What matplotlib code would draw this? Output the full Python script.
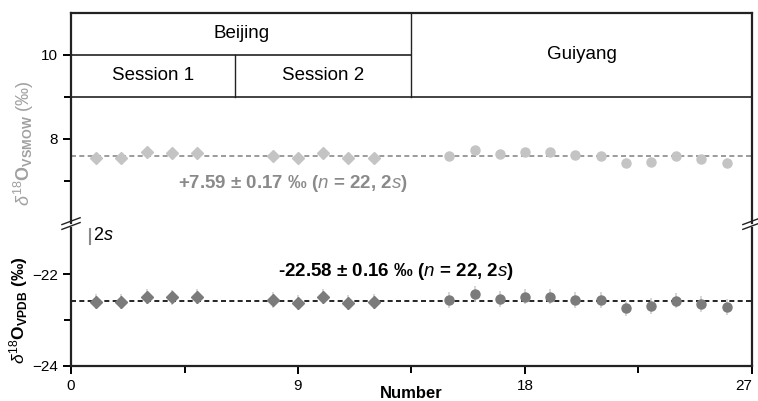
import matplotlib.pyplot as plt
import numpy as np

plt.rcParams['font.family'] = ['Liberation Sans', 'DejaVu Sans']
plt.rcParams['mathtext.fontset'] = 'custom'
plt.rcParams['mathtext.rm'] = 'Liberation Sans'
plt.rcParams['mathtext.bf'] = 'Liberation Sans:bold'
plt.rcParams['mathtext.it'] = 'Liberation Sans:italic'

# sample numbers
beijing_x = [1, 2, 3, 4, 5, 8, 9, 10, 11, 12]
guiyang_x = [15, 16, 17, 18, 19, 20, 21, 22, 23, 24, 25, 26]

# d18O VSMOW values
vsmow_bj = [7.55, 7.55, 7.70, 7.67, 7.67, 7.60, 7.55, 7.67, 7.54, 7.54]
vsmow_gy = [7.60, 7.74, 7.64, 7.69, 7.69, 7.61, 7.60, 7.44, 7.46, 7.60, 7.53, 7.44]
vsmow_mean = 7.59

# d18O VPDB values
vpdb_bj = [-22.60, -22.60, -22.49, -22.51, -22.49, -22.57, -22.62, -22.49, -22.62, -22.60]
vpdb_gy = [-22.57, -22.43, -22.54, -22.49, -22.49, -22.57, -22.57, -22.75, -22.70, -22.58, -22.65, -22.72]
vpdb_mean = -22.58

err_top = 0.10
err_bot = 0.17

fig = plt.figure(figsize=(7.58, 4.01), dpi=100)
ax1 = fig.add_axes([0.0937, 0.4439, 0.8983, 0.5237])
ax2 = fig.add_axes([0.0937, 0.0873, 0.8983, 0.3441])

light = '#c4c4c4'
dark = '#7b7b7b'

# top panel
ax1.errorbar(beijing_x, vsmow_bj, yerr=err_top, fmt='D', ms=6, color=light,
             ecolor='#e6e6e6', elinewidth=1.2, capsize=0, zorder=3)
ax1.errorbar(guiyang_x, vsmow_gy, yerr=err_top, fmt='o', ms=6.5, color=light,
             ecolor='#e6e6e6', elinewidth=1.2, capsize=0, zorder=3)
ax1.axhline(vsmow_mean, color='#8a8a8a', ls=(0, (3, 2)), lw=1.2, zorder=2)
ax1.text(8.8, 6.93, r'+7.59 ± 0.17 ‰ ($\mathbf{\mathit{n}}$ = 22, 2$\mathbf{\mathit{s}}$)',
         ha='center', va='center', fontsize=13.5, fontweight='bold', color='#8a8a8a')

# session boxes
box_c = '#222222'
ax1.plot([0, 13.5], [10, 10], color=box_c, lw=1.2)
ax1.plot([0, 27], [9, 9], color=box_c, lw=1.2)
ax1.plot([6.5, 6.5], [9, 10], color=box_c, lw=1)
ax1.plot([13.5, 13.5], [9, 11], color=box_c, lw=1)
ax1.text(6.75, 10.5, 'Beijing', ha='center', va='center', fontsize=13.5)
ax1.text(3.25, 9.5, 'Session 1', ha='center', va='center', fontsize=13.5)
ax1.text(10.0, 9.5, 'Session 2', ha='center', va='center', fontsize=13.5)
ax1.text(20.25, 10.0, 'Guiyang', ha='center', va='center', fontsize=13.5)

ax1.set_xlim(0, 27)
ax1.set_ylim(6, 11)
ax1.set_yticks([8, 10])
ax1.set_yticks([7, 9], minor=True)
ax1.set_xticks([])
ax1.spines['bottom'].set_visible(False)

# bottom panel
ax2.errorbar(beijing_x, vpdb_bj, yerr=err_bot, fmt='D', ms=6, color=dark,
             ecolor='#cfcfcf', elinewidth=1.2, capsize=0, zorder=3)
ax2.errorbar(guiyang_x, vpdb_gy, yerr=err_bot, fmt='o', ms=6.5, color=dark,
             ecolor='#cfcfcf', elinewidth=1.2, capsize=0, zorder=3)
ax2.axhline(vpdb_mean, color='black', ls=(0, (3, 2)), lw=1.2, zorder=2)
ax2.text(12.9, -21.95, r'-22.58 ± 0.16 ‰ ($\mathbf{\mathit{n}}$ = 22, 2$\mathbf{\mathit{s}}$)',
         ha='center', va='center', fontsize=13.5, fontweight='bold', color='black')

# 2s scale bar
ax2.plot([0.75, 0.75], [-21.0, -21.34], color='#8a8a8a', lw=1.5)
ax2.text(0.88, -21.17, r'2$\mathit{s}$', ha='left', va='center', fontsize=13)

ax2.set_xlim(0, 27)
ax2.set_ylim(-24, -21)
ax2.set_yticks([-24, -22])
ax2.set_yticks([-23], minor=True)
ax2.set_xticks([0, 9, 18, 27])
ax2.set_xticks([4.5, 13.5, 22.5], minor=True)
ax2.spines['top'].set_visible(False)

for ax in (ax1, ax2):
    for s in ax.spines.values():
        s.set_linewidth(1.6)
        s.set_color('#222222')
    ax.tick_params(which='both', direction='out', width=1.4, labelsize=11)
    ax.tick_params(which='major', length=6)
    ax.tick_params(which='minor', length=5)

# keep the last x tick label inside the figure
ax2.get_xticklabels()[-1].set_horizontalalignment('right')

# axis labels
fig.text(0.031, 1 - 143 / 401, r'$\delta^{18}\mathbf{O}_{\mathbf{VSMOW}}$ (‰)', color='#a0a0a0',
         fontsize=13, rotation=90, ha='center', va='center')
fig.text(0.025, 1 - 310 / 401, r'$\delta^{18}\mathbf{O}_{\mathbf{VPDB}}$ $\mathbf{(‰)}$',
         color='black', fontsize=12.5, rotation=90, ha='center', va='center')
fig.text(0.543, 1 - 393 / 401, 'Number', fontsize=12, fontweight='bold',
         ha='center', va='center')

# axis break marks
for xf in (0.0937, 0.992):
    for dy in (0.0, 0.012):
        fig.add_artist(plt.Line2D([xf - 0.012, xf + 0.012],
                                  [0.428 + dy, 0.445 + dy],
                                  color='#222222', lw=1, transform=fig.transFigure))

fig.savefig('out.png', dpi=100)
